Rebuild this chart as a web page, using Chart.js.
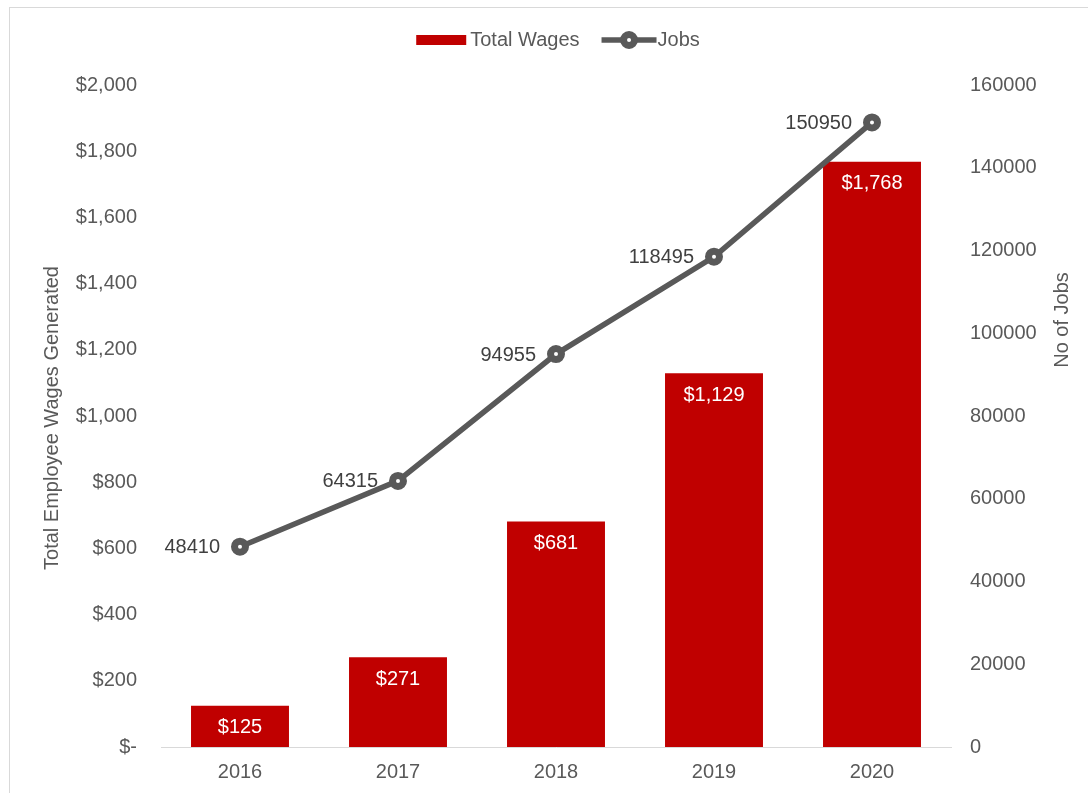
<!DOCTYPE html>
<html>
<head>
<meta charset="utf-8">
<script src="https://cdn.jsdelivr.net/npm/chart.js@4"></script>
<style>
	body { margin: 0; background: #fff; }
	#wrap { position: relative; width: 1088px; height: 793px; overflow: hidden; }
	#frame { position: absolute; left: 9px; top: 7px; width: 1200px; height: 900px; border-top: 1px solid #d9d9d9; border-left: 1px solid #d9d9d9; }
	#main_chart { position: absolute; left: 0; top: 0; }
</style>
</head>
<body>
<div id="wrap">
	<div id="frame"></div>
	<canvas id="main_chart" width="1088" height="793"></canvas>
</div>
<script>
const years = ['2016', '2017', '2018', '2019', '2020']
const totalWages = [125, 271, 681, 1129, 1768]
const jobs = [48410, 64315, 94955, 118495, 150950]
const wageTicks = [0, 200, 400, 600, 800, 1000, 1200, 1400, 1600, 1800, 2000]
const jobTicks = [0, 20000, 40000, 60000, 80000, 100000, 120000, 140000, 160000]

const FONT = '"Liberation Sans", Arial, sans-serif'
const GREY = '#595959'
const RED = '#C00000'

// money format like excel: $- for zero
function money(v) {
	if (v === 0) return '$-'
	return '$' + v.toLocaleString('en-US')
}

// value labels, axis titles and legend drawn by hand
const extras = {
	id: 'extras',
	afterDatasetsDraw(chart) {
		const ctx = chart.ctx
		ctx.save()
		ctx.font = `20px ${FONT}`
		ctx.textBaseline = 'middle'
		// bar labels
		const bars = chart.getDatasetMeta(1).data
		ctx.fillStyle = '#fff'
		ctx.textAlign = 'center'
		bars.forEach((bar, i) => {
			ctx.fillText(money(totalWages[i]), bar.x, bar.y + 22)
		})
		// line labels, to the left of each point
		const pts = chart.getDatasetMeta(0).data
		ctx.fillStyle = '#404040'
		ctx.textAlign = 'right'
		pts.forEach((pt, i) => {
			ctx.fillText(String(jobs[i]), pt.x - 20, pt.y + 1)
		})
		ctx.restore()
	},
	afterDraw(chart) {
		const ctx = chart.ctx
		ctx.save()
		ctx.font = `20px ${FONT}`
		ctx.fillStyle = GREY
		ctx.textBaseline = 'middle'
		ctx.textAlign = 'center'
		// axis titles
		ctx.save()
		ctx.translate(52, 418)
		ctx.rotate(-Math.PI / 2)
		ctx.fillText('Total Employee Wages Generated', 0, 0)
		ctx.restore()
		ctx.save()
		ctx.translate(1062, 320)
		ctx.rotate(-Math.PI / 2)
		ctx.fillText('No of Jobs', 0, 0)
		ctx.restore()
		// legend
		ctx.textAlign = 'left'
		const ly = 40
		const w1 = ctx.measureText('Total Wages').width
		const w2 = ctx.measureText('Jobs').width
		const total = 50 + 4 + w1 + 22 + 55 + 1 + w2
		let x = 558 - total / 2
		ctx.fillStyle = RED
		ctx.fillRect(x, ly - 5, 50, 10)
		x += 54
		ctx.fillStyle = GREY
		ctx.fillText('Total Wages', x, ly)
		x += w1 + 22
		ctx.strokeStyle = GREY
		ctx.lineWidth = 5.5
		ctx.beginPath()
		ctx.moveTo(x, ly)
		ctx.lineTo(x + 55, ly)
		ctx.stroke()
		ctx.beginPath()
		ctx.arc(x + 27.5, ly, 5.5, 0, Math.PI * 2)
		ctx.fillStyle = '#fff'
		ctx.fill()
		ctx.lineWidth = 7
		ctx.stroke()
		x += 56
		ctx.fillStyle = GREY
		ctx.fillText('Jobs', x, ly)
		ctx.restore()
	},
}

new Chart(document.getElementById('main_chart'), {
	type: 'bar',
	data: {
		labels: years,
		datasets: [
			{
				type: 'line',
				label: 'Jobs',
				data: jobs,
				yAxisID: 'y1',
				borderColor: GREY,
				borderWidth: 5.5,
				tension: 0,
				pointRadius: 5.5,
				pointBorderWidth: 7,
				pointBackgroundColor: '#fff',
				pointBorderColor: GREY,
				order: 0,
			},
			{
				label: 'Total Wages',
				data: totalWages,
				yAxisID: 'y',
				backgroundColor: RED,
				barPercentage: 0.62,
				categoryPercentage: 1,
				order: 1,
			},
		],
	},
	options: {
		responsive: false,
		animation: false,
		layout: { padding: { top: 85, left: 0, right: 0, bottom: 0 } },
		plugins: {
			legend: { display: false },
			tooltip: { enabled: false },
		},
		scales: {
			x: {
				grid: { display: false, drawTicks: false },
				border: { display: true, color: '#d9d9d9', width: 1 },
				ticks: { color: GREY, font: { family: FONT, size: 20 }, padding: 13 },
				afterFit(scale) { scale.height = 46 },
			},
			y: {
				position: 'left',
				min: 0,
				max: 2000,
				grid: { display: false, drawTicks: false },
				border: { display: false },
				afterBuildTicks(scale) { scale.ticks = wageTicks.map(v => ({ value: v })) },
				ticks: {
					color: GREY,
					font: { family: FONT, size: 20 },
					padding: 24,
					callback: v => money(v),
				},
				afterFit(scale) { scale.width = 161 },
			},
			y1: {
				position: 'right',
				min: 0,
				max: 160000,
				grid: { display: false, drawTicks: false },
				border: { display: false },
				afterBuildTicks(scale) { scale.ticks = jobTicks.map(v => ({ value: v })) },
				ticks: {
					color: GREY,
					font: { family: FONT, size: 20 },
					padding: 19,
					callback: v => String(v),
				},
				afterFit(scale) { scale.width = 137 },
			},
		},
	},
	plugins: [extras],
})
</script>
</body>
</html>
